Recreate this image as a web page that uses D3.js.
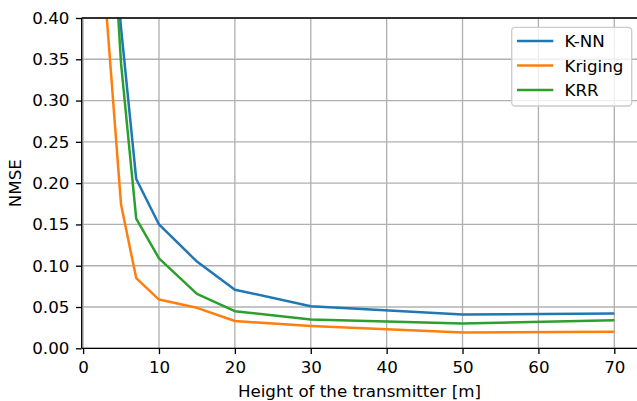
<!DOCTYPE html>
<html><head><meta charset="utf-8">
<script src="https://cdn.jsdelivr.net/npm/d3@7"></script>
<style>body{margin:0;background:#fff}svg{display:block}text{font-family:"DejaVu Sans",sans-serif}</style>
</head><body>
<script>
const heights = [3, 5, 7, 10, 15, 20, 30, 50, 70];
const knn     = [0.60, 0.388, 0.205, 0.150, 0.105, 0.071, 0.051, 0.041, 0.042];
const kriging = [0.415, 0.174, 0.085, 0.059, 0.049, 0.033, 0.027, 0.019, 0.020];
const krr     = [0.65, 0.345, 0.157, 0.109, 0.066, 0.045, 0.035, 0.030, 0.034];
const xTicks = [0, 10, 20, 30, 40, 50, 60, 70];
const yTicks = [0, 0.05, 0.10, 0.15, 0.20, 0.25, 0.30, 0.35, 0.40];
const seriesNames = ["K-NN", "Kriging", "KRR"];
const colors = ["#1f77b4", "#ff7f0e", "#2ca02c"];

const W = 637, H = 401, FS = "16.7px";
const L = 81.7, R = 637.5, T = 18, B = 348.3;
const svg = d3.select("body").append("svg").attr("width", W).attr("height", H);
const x = d3.scaleLinear().domain([0, 70]).range([83.1, 614.3]);
const y = d3.scaleLinear().domain([0, 0.40]).range([B, T]);

svg.append("defs").append("clipPath").attr("id", "clip")
  .append("rect").attr("x", L).attr("y", T).attr("width", R - L).attr("height", B - T);

// grid
const g = svg.append("g");
g.selectAll(".gx").data(xTicks).enter().append("line")
  .attr("x1", d => x(d)).attr("x2", d => x(d)).attr("y1", T).attr("y2", B)
  .attr("stroke", "#b0b0b0").attr("stroke-width", 1.33);
g.selectAll(".gy").data(yTicks).enter().append("line")
  .attr("x1", L).attr("x2", R).attr("y1", d => y(d)).attr("y2", d => y(d))
  .attr("stroke", "#b0b0b0").attr("stroke-width", 1.33);

// lines
const data = [knn, kriging, krr];
const line = d3.line().x((d, i) => x(heights[i])).y(d => y(d));
const lg = svg.append("g").attr("clip-path", "url(#clip)");
data.forEach((s, k) => {
  lg.append("path").attr("d", line(s)).attr("fill", "none")
    .attr("stroke", colors[k]).attr("stroke-width", 2.5).attr("stroke-linejoin", "round").attr("stroke-linecap", "butt");
});

// axes
const xAxis = d3.axisBottom(x).tickValues(xTicks).tickSize(5.8).tickPadding(7.5).tickFormat(d3.format("d"));
const ax = svg.append("g").attr("transform", `translate(0,${B})`).call(xAxis);
const yAxis = d3.axisLeft(y).tickValues(yTicks).tickSize(5.8).tickPadding(6.5).tickFormat(d3.format(".2f"));
const ay = svg.append("g").attr("transform", `translate(${L},0)`).call(yAxis);
[ax, ay].forEach(a => {
  a.select(".domain").remove();
  a.attr("font-size", null).attr("font-family", null);
  a.selectAll(".tick line").attr("stroke", "#000").attr("stroke-width", 1.33);
  a.selectAll(".tick text").style("font-size", FS).attr("fill", "#000");
});

// spines
svg.append("line").attr("x1", L).attr("x2", L).attr("y1", T).attr("y2", B).attr("stroke", "#000").attr("stroke-width", 1.33);
svg.append("line").attr("x1", L).attr("x2", R).attr("y1", B).attr("y2", B).attr("stroke", "#000").attr("stroke-width", 1.33);
svg.append("line").attr("x1", L).attr("x2", R).attr("y1", T).attr("y2", T).attr("stroke", "#000").attr("stroke-width", 1.33);

// labels
svg.append("text").attr("x", 359.5).attr("y", 397.2).attr("text-anchor", "middle")
  .style("font-size", FS).text("Height of the transmitter [m]");
svg.append("text").attr("transform", `translate(21,${(T + B) / 2}) rotate(-90)`).attr("text-anchor", "middle")
  .style("font-size", FS).text("NMSE");

// legend
const leg = svg.append("g");
leg.append("rect").attr("x", 511.7).attr("y", 27.3).attr("width", 120).attr("height", 78.7).attr("rx", 3.5)
  .attr("fill", "#fff").attr("fill-opacity", 0.8).attr("stroke", "#cccccc").attr("stroke-width", 1.33);
seriesNames.forEach((n, k) => {
  const yy = 41 + k * 24.5;
  leg.append("line").attr("x1", 517).attr("x2", 553.3).attr("y1", yy).attr("y2", yy)
    .attr("stroke", colors[k]).attr("stroke-width", 2.5);
  leg.append("text").attr("x", 564.5).attr("y", yy + 6).style("font-size", FS).text(n);
});
</script>
</body></html>
